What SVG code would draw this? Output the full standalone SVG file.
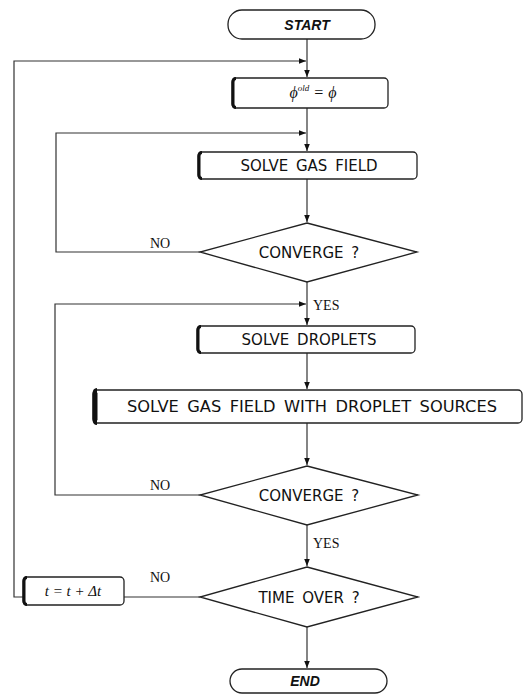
<svg xmlns="http://www.w3.org/2000/svg" width="525" height="695" viewBox="0 0 525 695">
<style>
.box{fill:#fff;stroke:#222;stroke-width:1.3}
.bar{fill:none;stroke:#111;stroke-linecap:butt}
.ln{fill:none;stroke:#333;stroke-width:1.2}
.t{font-family:"DejaVu Sans","Liberation Sans",sans-serif;font-size:15px;fill:#111;text-anchor:middle;word-spacing:3px}
.term{font-family:"Liberation Sans",sans-serif;font-size:14px;font-weight:bold;font-style:italic;fill:#111;text-anchor:middle}
.lab{font-family:"Liberation Serif",serif;font-size:14px;fill:#111}
.it{font-family:"Liberation Serif",serif;font-style:italic;fill:#111;text-anchor:middle}
</style>
<defs>
<marker id="ah" viewBox="0 0 10 10" refX="10" refY="5" markerWidth="7" markerHeight="7" orient="auto" markerUnits="userSpaceOnUse">
<path d="M0,1 L10,5 L0,9 Z" fill="#111"/>
</marker>
</defs>
<rect width="525" height="695" fill="#fff"/>

<g id="connectors">
<line class="ln" x1="307" y1="39" x2="307" y2="77" marker-end="url(#ah)"/>
<polyline class="ln" points="23,597 14,597 14,61 306,61" marker-end="url(#ah)"/>
<line class="ln" x1="307" y1="108" x2="307" y2="151" marker-end="url(#ah)"/>
<polyline class="ln" points="200,252 56,252 56,133 306,133" marker-end="url(#ah)"/>
<line class="ln" x1="307" y1="179" x2="307" y2="222" marker-end="url(#ah)"/>
<line class="ln" x1="307" y1="282" x2="307" y2="325" marker-end="url(#ah)"/>
<polyline class="ln" points="200,495 55,495 55,304 306,304" marker-end="url(#ah)"/>
<line class="ln" x1="307" y1="353" x2="307" y2="389" marker-end="url(#ah)"/>
<line class="ln" x1="307" y1="423" x2="307" y2="465" marker-end="url(#ah)"/>
<line class="ln" x1="307" y1="525" x2="307" y2="566" marker-end="url(#ah)"/>
<line class="ln" x1="200" y1="597" x2="124" y2="597"/>
<line class="ln" x1="307" y1="627" x2="307" y2="668" marker-end="url(#ah)"/>
<text class="lab" x="150" y="248">NO</text>
<text class="lab" x="313" y="310">YES</text>
<text class="lab" x="150" y="490">NO</text>
<text class="lab" x="313" y="548">YES</text>
<text class="lab" x="150" y="582">NO</text>
</g>

<g id="start">
<rect class="box" x="228" y="10" width="147" height="29" rx="14" ry="14"/>
<text class="term" x="307" y="30">START</text>
</g>

<g id="init">
<rect class="box" x="232" y="78" width="156" height="30" rx="4"/>
<path class="bar" d="M236,78.5 Q233,78.5 233,82 L233,104 Q233,107.5 236,107.5" stroke-width="3"/>
<text class="it" x="313" y="98" font-size="16">ϕ<tspan font-size="9" dy="-7">old</tspan><tspan dy="7"> = ϕ</tspan></text>
</g>

<g id="solve-gas">
<rect class="box" x="198" y="152" width="219" height="27" rx="4"/>
<path class="bar" d="M202,152.5 Q199,152.5 199,156 L199,175 Q199,178.5 202,178.5" stroke-width="3"/>
<text class="t" x="309" y="171">SOLVE GAS FIELD</text>
</g>

<g id="converge1">
<polygon class="box" points="307,223 417,252 307,282 200,252"/>
<text class="t" x="309" y="258">CONVERGE ?</text>
</g>

<g id="solve-droplets">
<rect class="box" x="197" y="326" width="218" height="27" rx="4"/>
<path class="bar" d="M201,326.5 Q198,326.5 198,330 L198,349 Q198,352.5 201,352.5" stroke-width="3"/>
<text class="t" x="309" y="345">SOLVE DROPLETS</text>
</g>

<g id="solve-gas-sources">
<rect class="box" x="93" y="390" width="429" height="33" rx="4"/>
<path class="bar" d="M97,390.5 Q95,390.5 95,394 L95,419 Q95,422.5 97,422.5" stroke-width="5"/>
<text class="t" x="312" y="412" textLength="370" lengthAdjust="spacingAndGlyphs">SOLVE GAS FIELD WITH DROPLET SOURCES</text>
</g>

<g id="converge2">
<polygon class="box" points="307,466 418,495 307,525 200,495"/>
<text class="t" x="309" y="501">CONVERGE ?</text>
</g>

<g id="time-over">
<polygon class="box" points="307,567 418,597 307,627 200,597"/>
<text class="t" x="309" y="603">TIME OVER ?</text>
</g>

<g id="time-step">
<rect class="box" x="23" y="577" width="101" height="28" rx="4"/>
<path class="bar" d="M27,577.5 Q24,577.5 24,581 L24,601 Q24,604.5 27,604.5" stroke-width="3"/>
<text class="it" x="73" y="596" font-size="15">t = t + Δt</text>
</g>

<g id="end">
<rect class="box" x="230" y="669" width="157" height="24" rx="12" ry="12"/>
<text class="term" x="305" y="686">END</text>
</g>
</svg>
